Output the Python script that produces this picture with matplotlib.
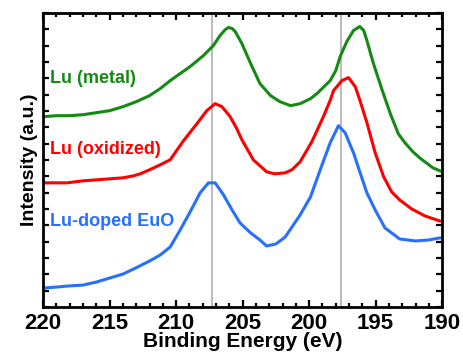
import matplotlib
matplotlib.use('Agg')
import matplotlib.pyplot as plt
from matplotlib.ticker import MultipleLocator

plt.rcParams['font.family'] = ['Liberation Sans', 'DejaVu Sans']
plt.rcParams['font.weight'] = 'bold'

# binding energy (eV) / intensity (a.u.)
metal_e = [220, 219, 218, 217, 216, 215, 214, 213, 212, 211.2, 210.45, 209.7,
           208.95, 207.95, 207.2, 206.7, 206.3, 206.07, 205.8, 205.56, 205.06,
           204.4, 203.7, 202.9, 202.2, 201.4, 200.68, 199.9, 199.42, 198.42,
           198.0, 197.67, 197.17, 196.67, 196.2, 195.9, 195.66, 195.17, 194.5,
           193.9, 193.3, 192.8, 192.2, 191.7, 190.7, 190.0]
metal_i = [190, 191, 191, 192, 194, 196, 200, 205, 211, 218, 226, 233,
           240, 251, 261, 271, 277, 279, 278, 275, 263,
           243, 223, 211, 205, 201, 203, 208, 213, 226,
           236, 250, 265, 276, 280, 276, 266, 243, 216,
           193, 173, 164, 155, 149, 139, 135]

oxid_e = [220, 219, 218.2, 217, 216, 215, 214, 213.2, 212.7, 212, 211.2, 210.45,
          209.45, 208.44, 207.7, 207.07, 206.56, 205.94, 205.44, 205.06, 204.2,
          203.2, 202.6, 201.8, 201.3, 200.68, 199.8, 198.9, 198.4, 198.17,
          197.54, 197.04, 196.54, 196.2, 195.66, 195.04, 194.4, 193.8, 193.2,
          192.3, 191.3, 190.2]
oxid_i = [124, 124, 124, 126, 127, 128, 129, 131, 133, 137, 142, 147,
          166, 183, 196, 203, 200, 190, 178, 167, 147,
          135, 133, 134, 137, 145, 165, 191, 207, 216,
          226, 229, 220, 207, 184, 154, 130, 115, 107,
          98, 91, 86]

euo_e = [220, 219, 218.2, 217, 216, 215, 214, 213.2, 212, 211.2, 210.45, 209.7,
         208.95, 208.2, 207.57, 207.07, 206.44, 205.8, 205.2, 204.4, 203.7,
         203.2, 202.5, 201.8, 200.68, 199.9, 199.17, 198.42, 197.8, 197.3,
         196.67, 196.17, 195.66, 195.04, 194.3, 193.2, 192, 191, 190.2]
euo_i = [19, 20, 21, 22, 25, 29, 33, 38, 46, 52, 60, 77,
         95, 114, 124, 124, 112, 97, 84, 74, 67,
         61, 63, 70, 92, 110, 137, 164, 181, 174,
         154, 134, 114, 97, 79, 68, 66, 67, 69]

ref_lines = [207.3, 197.6]

labels = ['Lu (metal)', 'Lu (oxidized)', 'Lu-doped EuO']
label_y = [228, 157, 85]
colors = ['#148a14', '#ff0000', '#2670ff']

fig = plt.figure(figsize=(4.64, 3.53), dpi=100)
ax = fig.add_axes([0.093, 0.130, 0.860, 0.833])

for xv in ref_lines:
    ax.axvline(xv, color='#b4b4b4', lw=1.3, zorder=1)

for (e, i), c in zip([(metal_e, metal_i), (oxid_e, oxid_i), (euo_e, euo_i)], colors):
    ax.plot(e, i, color=c, lw=2.2, zorder=2, solid_joinstyle='round')

for txt, yv, c in zip(labels, label_y, colors):
    ax.text(219.5, yv, txt, color=c, fontsize=13, fontweight='bold',
            va='center', ha='left')

ax.set_xlim(220, 190)
ax.set_ylim(0, 293.4)
ax.xaxis.set_major_locator(MultipleLocator(5))
ax.xaxis.set_minor_locator(MultipleLocator(1))
ax.yaxis.set_major_locator(MultipleLocator(16.3))
ax.tick_params(axis='both', which='both', direction='in', top=True, right=True, width=1.6)
ax.tick_params(axis='x', which='major', length=5, labelsize=16, pad=4)
ax.tick_params(axis='x', which='minor', length=3)
ax.tick_params(axis='y', which='major', length=4, labelleft=False)
for s in ax.spines.values():
    s.set_linewidth(2)

ax.set_xlabel('Binding Energy (eV)', fontsize=15, fontweight='bold', labelpad=-1)
ax.set_ylabel('Intensity (a.u.)', fontsize=14, fontweight='bold', labelpad=4)

fig.savefig('out.png', dpi=100)
